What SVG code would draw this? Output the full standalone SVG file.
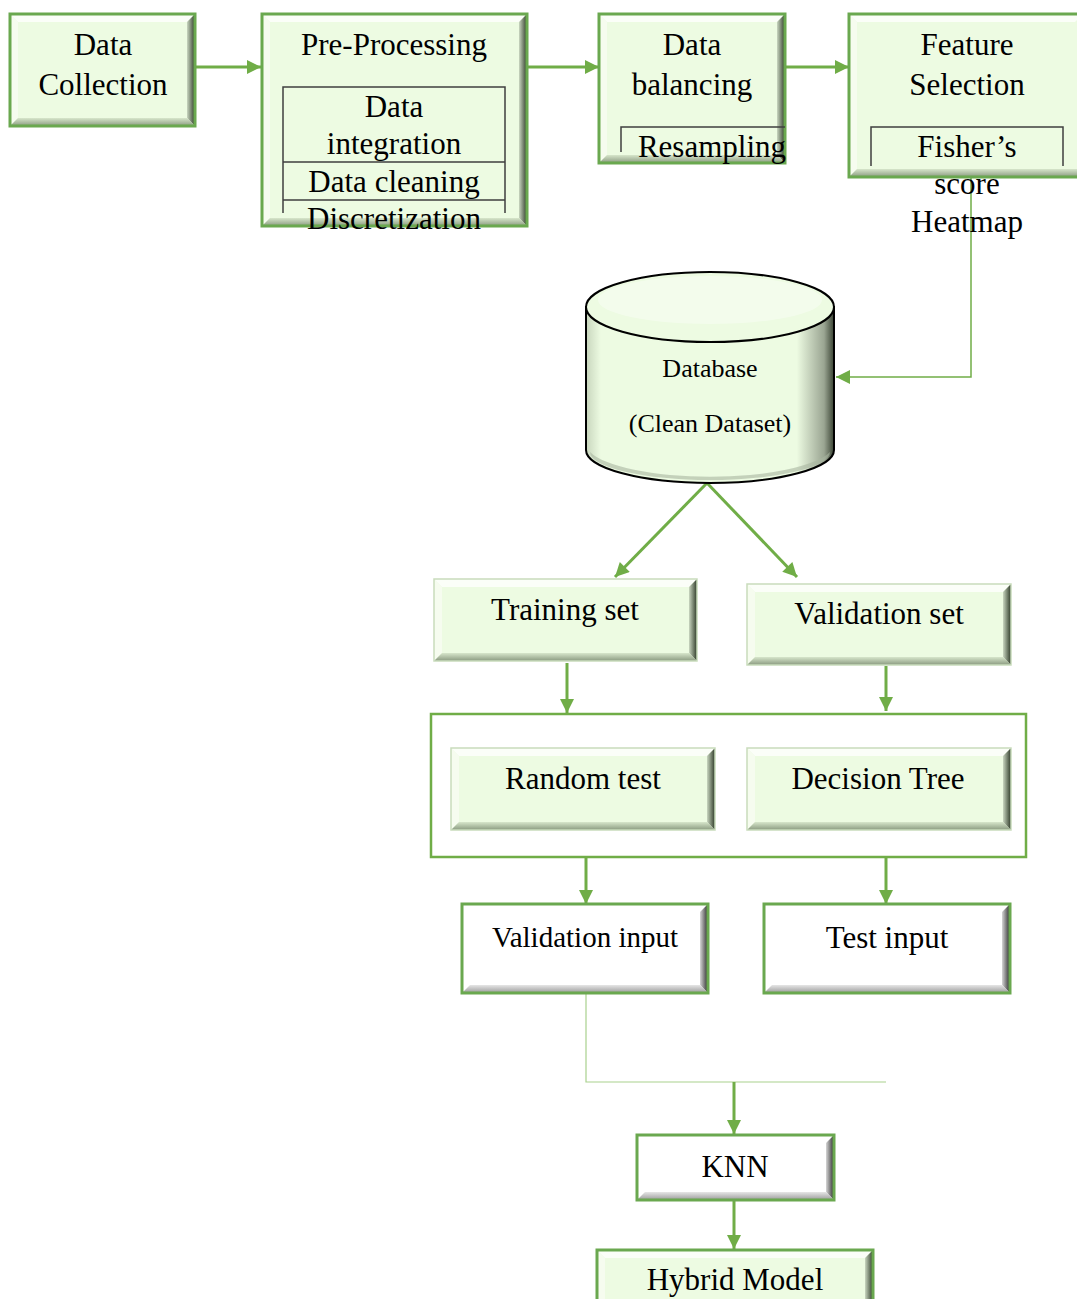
<svg xmlns="http://www.w3.org/2000/svg" width="1077" height="1299" viewBox="0 0 1077 1299">
<style>
.t{font-family:"Liberation Serif","Times New Roman",serif;fill:#000;text-anchor:middle}
.f31{font-size:31px}
.f29{font-size:29px}
.f26{font-size:26px}
.g{fill:#edfbe2}
.w{fill:#ffffff}
.bt{fill:#ffffff;opacity:.75}
.bl{fill:#f7fdf2;opacity:.8}
.brg{fill:url(#grR)}
.bbg{fill:url(#grB)}
.brw{fill:url(#gwR)}
.bbw{fill:url(#gwB)}
.fr{fill:none;stroke:#6aa84f;stroke-width:3}
.inner{fill:none;stroke:#3f3f3f;stroke-width:1.5}
.c{fill:none;stroke:#70ad47;stroke-width:3}
.cthin{fill:none;stroke:#70ad47;stroke-width:1.5}
.clight{fill:none;stroke:#a9d18e;stroke-width:1.2}
</style>
<defs>
<linearGradient id="grR" x1="0" y1="0" x2="1" y2="0"><stop offset="0" stop-color="#c9d6c0"/><stop offset="1" stop-color="#2e3a28"/></linearGradient>
<linearGradient id="grB" x1="0" y1="0" x2="0" y2="1"><stop offset="0" stop-color="#d7e6cb"/><stop offset="1" stop-color="#8a9a80"/></linearGradient>
<linearGradient id="gwR" x1="0" y1="0" x2="1" y2="0"><stop offset="0" stop-color="#d6d6d6"/><stop offset="1" stop-color="#2b2b2b"/></linearGradient>
<linearGradient id="gwB" x1="0" y1="0" x2="0" y2="1"><stop offset="0" stop-color="#e6e6e6"/><stop offset="1" stop-color="#9a9a9a"/></linearGradient>
<linearGradient id="cyl" x1="0" y1="0" x2="1" y2="0"><stop offset="0" stop-color="#c8d6bd"/><stop offset="0.06" stop-color="#edfbe2"/><stop offset="0.85" stop-color="#edfbe2"/><stop offset="0.96" stop-color="#9aa592"/><stop offset="1" stop-color="#3a4434"/></linearGradient>
<marker id="ah" viewBox="0 0 10 10" refX="10" refY="5" markerWidth="15" markerHeight="14" markerUnits="userSpaceOnUse" orient="auto"><path d="M0,0 L10,5 L0,10 Z" fill="#70ad47"/></marker>
</defs>

<g id="connectors">
<line class="c" x1="195" y1="67" x2="261" y2="67" marker-end="url(#ah)"/>
<line class="c" x1="527" y1="67" x2="599" y2="67" marker-end="url(#ah)"/>
<line class="c" x1="785" y1="67" x2="849" y2="67" marker-end="url(#ah)"/>
<path class="cthin" d="M971,177 V377 H836" marker-end="url(#ah)"/>
<line class="c" x1="707" y1="483" x2="615" y2="577" marker-end="url(#ah)"/>
<line class="c" x1="707" y1="483" x2="797" y2="577" marker-end="url(#ah)"/>
<line class="c" x1="567" y1="663" x2="567" y2="713" marker-end="url(#ah)"/>
<line class="c" x1="886" y1="666" x2="886" y2="711" marker-end="url(#ah)"/>
<line class="c" x1="586" y1="857" x2="586" y2="904" marker-end="url(#ah)"/>
<line class="c" x1="886" y1="857" x2="886" y2="904" marker-end="url(#ah)"/>
<path class="clight" d="M586,993 V1082 H886"/>
<line class="c" x1="734" y1="1082" x2="734" y2="1134" marker-end="url(#ah)"/>
<line class="c" x1="734" y1="1200" x2="734" y2="1249" marker-end="url(#ah)"/>
</g>

<g id="data-collection">
<rect class="g" x="10" y="14" width="185" height="112"/>
<polygon class="bt" points="10,14 195,14 187,22 18,22"/>
<polygon class="bl" points="10,14 18,22 18,118 10,126"/>
<polygon class="brg" points="187,22 195,14 195,126 187,118"/>
<polygon class="bbg" points="18,118 187,118 195,126 10,126"/>
<rect class="fr" x="10" y="14" width="185" height="112"/>
<text class="t f31" x="103" y="55">Data</text>
<text class="t f31" x="103" y="95">Collection</text>
</g>

<g id="pre-processing">
<rect class="g" x="262" y="14" width="265" height="212"/>
<polygon class="bt" points="262,14 527,14 519,22 270,22"/>
<polygon class="bl" points="262,14 270,22 270,218 262,226"/>
<polygon class="brg" points="519,22 527,14 527,226 519,218"/>
<polygon class="bbg" points="270,218 519,218 527,226 262,226"/>
<rect class="fr" x="262" y="14" width="265" height="212"/>
<path class="inner" d="M283,213 V87 H505 V213 M283,162 H505 M283,200 H505"/>
<text class="t f31" x="394" y="55">Pre-Processing</text>
<text class="t f31" x="394" y="117">Data</text>
<text class="t f31" x="394" y="154">integration</text>
<text class="t f31" x="394" y="192">Data cleaning</text>
<text class="t f31" x="394" y="229">Discretization</text>
</g>

<g id="data-balancing">
<rect class="g" x="599" y="14" width="186" height="149"/>
<polygon class="bt" points="599,14 785,14 777,22 607,22"/>
<polygon class="bl" points="599,14 607,22 607,155 599,163"/>
<polygon class="brg" points="777,22 785,14 785,163 777,155"/>
<polygon class="bbg" points="607,155 777,155 785,163 599,163"/>
<rect class="fr" x="599" y="14" width="186" height="149"/>
<path class="inner" d="M621,152 V127 H785"/>
<text class="t f31" x="692" y="55">Data</text>
<text class="t f31" x="692" y="95">balancing</text>
<text class="t f31" x="712" y="157">Resampling</text>
</g>

<g id="feature-selection">
<rect class="g" x="849" y="14" width="234" height="163"/>
<polygon class="bt" points="849,14 1083,14 1075,22 857,22"/>
<polygon class="bl" points="849,14 857,22 857,169 849,177"/>
<polygon class="bbg" points="857,169 1083,169 1083,177 849,177"/>
<rect class="fr" x="849" y="14" width="234" height="163"/>
<path class="inner" d="M871,166 V127 H1063 V166"/>
<text class="t f31" x="967" y="55">Feature</text>
<text class="t f31" x="967" y="95">Selection</text>
<text class="t f31" x="967" y="157">Fisher’s</text>
<text class="t f31" x="967" y="194">score</text>
<text class="t f31" x="967" y="232">Heatmap</text>
</g>

<g id="database">
<path d="M586,307 V450 A124,33 0 0 0 834,450 V307 Z" fill="url(#cyl)" stroke="#000" stroke-width="2"/>
<path d="M590,452 A120,28 0 0 0 830,452 A124,33 0 0 1 590,452 Z" fill="#a9b6a0" opacity="0.6"/>
<ellipse cx="710" cy="307" rx="124" ry="35" fill="#edfbe2" stroke="#000" stroke-width="2"/>
<ellipse cx="710" cy="300" rx="112" ry="24" fill="#ffffff" opacity="0.35"/>
<text class="t f26" x="710" y="377">Database</text>
<text class="t f26" x="710" y="432">(Clean Dataset)</text>
</g>

<g id="training-set">
<rect class="g" x="434" y="579" width="263" height="82"/>
<polygon class="bt" points="434,579 697,579 689,587 442,587"/>
<polygon class="bl" points="434,579 442,587 442,653 434,661"/>
<polygon class="brg" points="689,587 697,579 697,661 689,653"/>
<polygon class="bbg" points="442,653 689,653 697,661 434,661"/>
<rect x="434" y="579" width="263" height="82" fill="none" stroke="#c9dcbc" stroke-width="1.5"/>
<text class="t f31" x="565" y="620">Training set</text>
</g>

<g id="validation-set">
<rect class="g" x="747" y="584" width="264" height="81"/>
<polygon class="bt" points="747,584 1011,584 1003,592 755,592"/>
<polygon class="bl" points="747,584 755,592 755,657 747,665"/>
<polygon class="brg" points="1003,592 1011,584 1011,665 1003,657"/>
<polygon class="bbg" points="755,657 1003,657 1011,665 747,665"/>
<rect x="747" y="584" width="264" height="81" fill="none" stroke="#c9dcbc" stroke-width="1.5"/>
<text class="t f31" x="879" y="624">Validation set</text>
</g>

<g id="model-group">
<rect x="431" y="714" width="595" height="143" fill="none" stroke="#70ad47" stroke-width="2.5"/>
</g>

<g id="random-test">
<rect class="g" x="451" y="748" width="264" height="82"/>
<polygon class="bt" points="451,748 715,748 707,756 459,756"/>
<polygon class="bl" points="451,748 459,756 459,822 451,830"/>
<polygon class="brg" points="707,756 715,748 715,830 707,822"/>
<polygon class="bbg" points="459,822 707,822 715,830 451,830"/>
<rect x="451" y="748" width="264" height="82" fill="none" stroke="#c9dcbc" stroke-width="1.5"/>
<text class="t f31" x="583" y="789">Random test</text>
</g>

<g id="decision-tree">
<rect class="g" x="747" y="748" width="264" height="82"/>
<polygon class="bt" points="747,748 1011,748 1003,756 755,756"/>
<polygon class="bl" points="747,748 755,756 755,822 747,830"/>
<polygon class="brg" points="1003,756 1011,748 1011,830 1003,822"/>
<polygon class="bbg" points="755,822 1003,822 1011,830 747,830"/>
<rect x="747" y="748" width="264" height="82" fill="none" stroke="#c9dcbc" stroke-width="1.5"/>
<text class="t f31" x="878" y="789">Decision Tree</text>
</g>

<g id="validation-input">
<rect class="w" x="462" y="904" width="246" height="89"/>
<polygon class="bt" points="462,904 708,904 700,912 470,912"/>
<polygon class="brw" points="700,912 708,904 708,993 700,985"/>
<polygon class="bbw" points="470,985 700,985 708,993 462,993"/>
<rect class="fr" x="462" y="904" width="246" height="89"/>
<text class="t f29" x="585" y="947">Validation input</text>
</g>

<g id="test-input">
<rect class="w" x="764" y="904" width="246" height="89"/>
<polygon class="brw" points="1002,912 1010,904 1010,993 1002,985"/>
<polygon class="bbw" points="772,985 1002,985 1010,993 764,993"/>
<rect class="fr" x="764" y="904" width="246" height="89"/>
<text class="t f31" x="887" y="948">Test input</text>
</g>

<g id="knn">
<rect class="w" x="637" y="1135" width="197" height="65"/>
<polygon class="brw" points="826,1143 834,1135 834,1200 826,1192"/>
<polygon class="bbw" points="645,1192 826,1192 834,1200 637,1200"/>
<rect class="fr" x="637" y="1135" width="197" height="65"/>
<text class="t f31" x="735" y="1177">KNN</text>
</g>

<g id="hybrid-model">
<rect class="g" x="597" y="1250" width="276" height="60"/>
<polygon class="bt" points="597,1250 873,1250 865,1258 605,1258"/>
<polygon class="bl" points="597,1250 605,1258 605,1310 597,1310"/>
<polygon class="brg" points="865,1258 873,1250 873,1310 865,1310"/>
<rect class="fr" x="597" y="1250" width="276" height="60"/>
<text class="t f31" x="735" y="1290">Hybrid Model</text>
</g>
</svg>
